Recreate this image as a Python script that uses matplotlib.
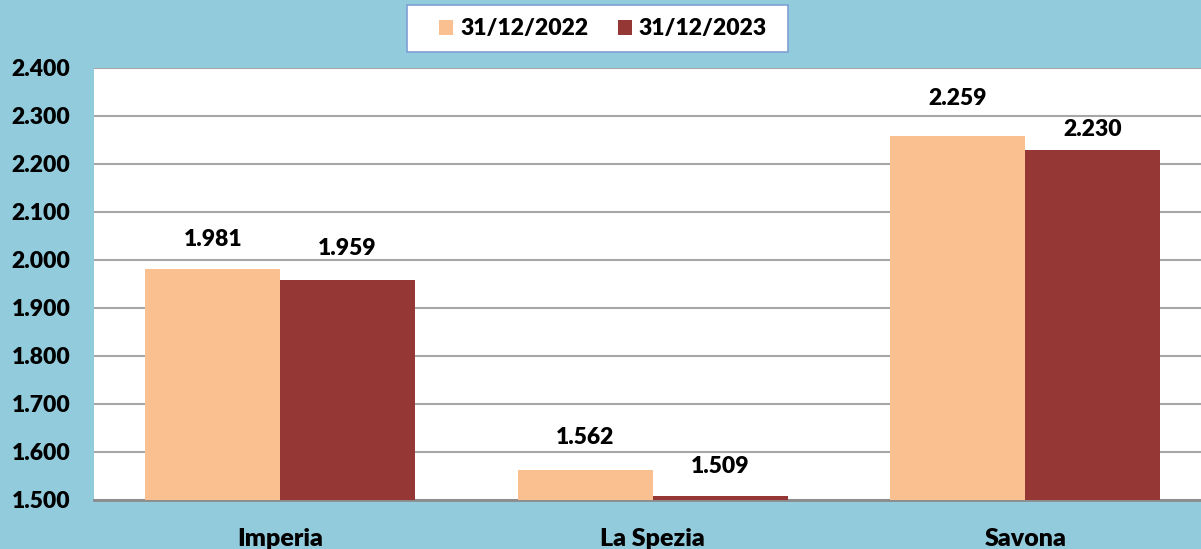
import matplotlib.pyplot as plt
from matplotlib.patches import Rectangle
import numpy as np

# dati
province = ["Imperia", "La Spezia", "Savona"]
val_2022 = [1981, 1562, 2259]
val_2023 = [1959, 1509, 2230]
etichette = ["31/12/2022", "31/12/2023"]

colori = ["#FAC090", "#953735"]
sfondo = "#92CBDC"

# distanza (px) delle etichette dalla cima delle barre, come nell'originale
scarto_2022 = [30, 33, 37]
scarto_2023 = [31, 29, 20]

plt.rcParams['font.family'] = ['Lato', 'DejaVu Sans']
PESO = "heavy"


def fmt(v):
    return f"{v:,}".replace(",", ".")


fig = plt.figure(figsize=(12.01, 5.49), dpi=100)
fig.patch.set_facecolor(sfondo)

W, H = 1201, 549
ax = fig.add_axes([94 / W, (H - 500) / H, 1117.5 / W, 432 / H])
ax.set_facecolor("white")

x = np.arange(len(province))
w = 0.362
b1 = ax.bar(x - w / 2, val_2022, w, color=colori[0], label=etichette[0], zorder=3)
b2 = ax.bar(x + w / 2, val_2023, w, color=colori[1], label=etichette[1], zorder=3)

for barre, scarti in ((b1, scarto_2022), (b2, scarto_2023)):
    for b, s in zip(barre, scarti):
        v = b.get_height()
        ax.annotate(fmt(int(v)), (b.get_x() + b.get_width() / 2, v),
                    xytext=(0, s * 0.72), textcoords="offset points",
                    ha="center", va="center", fontsize=16.5, fontweight=PESO)

ax.set_xlim(-0.5, 2.5)
ax.set_ylim(1500, 2400)
ax.set_yticks(range(1500, 2401, 100))
ax.set_yticklabels([fmt(t) for t in range(1500, 2401, 100)], fontsize=16.5, fontweight=PESO)
ax.set_xticks(x)
ax.set_xticklabels(province, fontsize=18, fontweight=PESO)
ax.tick_params(axis="both", length=0)
ax.tick_params(axis="y", pad=17)
ax.tick_params(axis="x", pad=20)

ax.grid(axis="y", color="#A6A6A6", linewidth=1.5, zorder=0)
for s in ["left", "right", "top"]:
    ax.spines[s].set_visible(False)
ax.spines["bottom"].set_color("#8C8C8C")
ax.spines["bottom"].set_linewidth(2)

# riquadro della legenda
fig.patches.append(Rectangle((407 / W, 1 - 52 / H), 381 / W, 47 / H,
                             transform=fig.transFigure, facecolor="white",
                             edgecolor="#7F9FD5", linewidth=1.2, zorder=0))
leg = fig.legend(loc="center", bbox_to_anchor=(603 / W, 1 - 29 / H), ncol=2,
                 fontsize=16.5, frameon=False,
                 handlelength=0.6, handleheight=0.6, handletextpad=0.3,
                 columnspacing=1.3)
for t in leg.get_texts():
    t.set_fontweight(PESO)

fig.savefig("out.png", dpi=100, facecolor=fig.get_facecolor())
